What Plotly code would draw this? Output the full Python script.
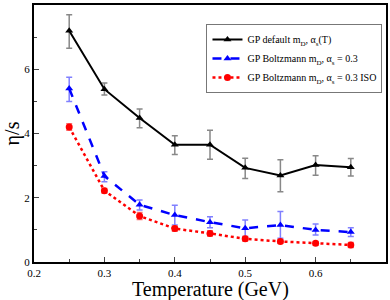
import plotly.graph_objects as go

temps = [0.25, 0.30, 0.35, 0.40, 0.45, 0.50, 0.55, 0.60, 0.65]

default_vals = [7.2, 5.38, 4.48, 3.65, 3.65, 2.93, 2.69, 3.02, 2.95]
default_hi = [7.7, 5.57, 4.76, 3.93, 4.10, 3.23, 3.18, 3.31, 3.22]
default_lo = [6.65, 5.20, 4.18, 3.35, 3.20, 2.60, 2.19, 2.70, 2.68]

boltz_vals = [5.4, 2.68, 1.78, 1.46, 1.24, 1.05, 1.15, 1.00, 0.93]
boltz_hi = [5.75, 2.81, 1.93, 1.77, 1.41, 1.31, 1.57, 1.18, 1.07]
boltz_lo = [5.0, 2.50, 1.62, 1.15, 1.07, 0.79, 0.74, 0.84, 0.79]

iso_vals = [4.2, 2.22, 1.43, 1.04, 0.89, 0.72, 0.64, 0.58, 0.53]
iso_err = [0.1, 0.07, 0.11, 0.08, 0.08, 0.07, 0.06, 0.06, 0.08]

x_ticks = [0.2, 0.3, 0.4, 0.5, 0.6]
y_ticks = [0, 2, 4, 6, 8]

names = [
    "GP default m<sub>D</sub>, α<sub>s</sub>(T)",
    "GP Boltzmann m<sub>D</sub>, α<sub>s</sub> = 0.3",
    "GP Boltzmann m<sub>D</sub>, α<sub>s</sub> = 0.3 ISO",
]

def err(vals, hi, lo):
    return dict(type="data", symmetric=False,
                array=[h - v for h, v in zip(hi, vals)],
                arrayminus=[v - l for v, l in zip(vals, lo)])

fig = go.Figure()
e1 = err(default_vals, default_hi, default_lo)
e1.update(color="#888888", thickness=1.5, width=3)
fig.add_trace(go.Scatter(x=temps, y=default_vals, name=names[0], mode="lines+markers",
                         line=dict(color="black", width=2),
                         marker=dict(symbol="triangle-up", size=7, color="black"),
                         error_y=e1))
e2 = err(boltz_vals, boltz_hi, boltz_lo)
e2.update(color="#8080ff", thickness=1.5, width=3)
fig.add_trace(go.Scatter(x=temps, y=boltz_vals, name=names[1], mode="lines+markers",
                         line=dict(color="blue", width=2.5, dash="dash"),
                         marker=dict(symbol="triangle-up", size=7, color="blue"),
                         error_y=e2))
e3 = dict(type="data", array=iso_err, color="#ff7070", thickness=1.5, width=3)
fig.add_trace(go.Scatter(x=temps, y=iso_vals, name=names[2], mode="lines+markers",
                         line=dict(color="red", width=2.5, dash="dot"),
                         marker=dict(symbol="circle", size=7, color="red"),
                         error_y=e3))

font = "Liberation Serif, serif"
fig.update_layout(
    width=390, height=300,
    margin=dict(l=34, r=4, t=5, b=38, autoexpand=False),
    paper_bgcolor="white", plot_bgcolor="white",
    font=dict(family=font, color="black", size=12),
    showlegend=True,
    legend=dict(x=0.49, y=0.926, xanchor="left", yanchor="top",
                bordercolor="#777777", borderwidth=1, bgcolor="white",
                font=dict(family=font, size=10), tracegroupgap=0,
                itemwidth=30),
    xaxis=dict(range=[0.2, 0.7], tickvals=x_ticks, ticktext=[f"{v:.1f}" for v in x_ticks],
               ticks="inside", ticklen=5, tickwidth=1,
               minor=dict(tickvals=[0.25, 0.35, 0.45, 0.55, 0.65], ticks="inside", ticklen=3),
               showline=True, linecolor="black", linewidth=2, mirror=True,
               showgrid=False, zeroline=False,
               tickfont=dict(family=font, size=11)),
    yaxis=dict(range=[0, 8], tickvals=y_ticks,
               ticks="inside", ticklen=5, tickwidth=1,
               minor=dict(tickvals=[1, 3, 5, 7], ticks="inside", ticklen=3),
               showline=True, linecolor="black", linewidth=2, mirror=True,
               showgrid=False, zeroline=False,
               tickfont=dict(family=font, size=11)),
    annotations=[
        dict(text="Temperature (GeV)", xref="paper", yref="paper", x=0.5, y=-0.107,
             xanchor="center", yanchor="middle", showarrow=False,
             font=dict(family=font, size=20)),
        dict(text="η/s", xref="paper", yref="paper", x=-0.06, y=0.5, textangle=-90,
             xanchor="center", yanchor="middle", showarrow=False,
             font=dict(family=font, size=20)),
    ],
)

fig.write_html("out.html", config={"displayModeBar": False},
               post_script="document.body.style.margin='0';")
